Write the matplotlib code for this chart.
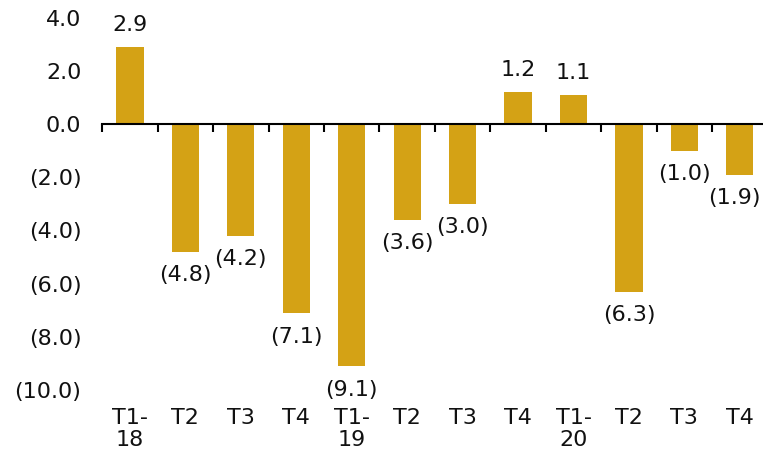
import matplotlib.pyplot as plt
import numpy as np

# du lieu theo quy
quarters = ['T1-\n18', 'T2', 'T3', 'T4', 'T1-\n19', 'T2', 'T3', 'T4', 'T1-\n20', 'T2', 'T3', 'T4']
values = [2.9, -4.8, -4.2, -7.1, -9.1, -3.6, -3.0, 1.2, 1.1, -6.3, -1.0, -1.9]
yticks = [4.0, 2.0, 0.0, -2.0, -4.0, -6.0, -8.0, -10.0]

bar_color = '#D4A215'
fsize = 16


def fmt(v):
    # so am trong ngoac
    if v < 0:
        return f"({abs(v):.1f})"
    return f"{v:.1f}"


plt.rcParams['font.family'] = ['DejaVu Sans']
plt.rcParams['font.size'] = fsize

fig = plt.figure(figsize=(7.63, 4.51), dpi=100)
ax = fig.add_axes([0.134, 0.135, 0.872, 0.826])

x = np.arange(len(values))
ax.bar(x, values, width=0.49, color=bar_color, zorder=2)

labels = []
for xi, v in zip(x, values):
    off = 16 if v >= 0 else -17
    t = ax.annotate(fmt(v), (xi, v), xytext=(0, off), textcoords='offset points',
                    ha='center', va='center', fontsize=fsize, color='#111111')
    labels.append(t)

ax.set_xlim(-0.5, len(values) - 0.5)
ax.set_ylim(-10, 4)
ax.set_yticks(yticks)
ax.set_yticklabels([fmt(t) for t in yticks], color='#111111')
ax.tick_params(axis='y', length=0, pad=15)

# truc ngang o muc 0
for s in ['left', 'right', 'bottom']:
    ax.spines[s].set_visible(False)
ax.spines['top'].set_position(('data', 0))
ax.spines['top'].set_linewidth(1.5)
ax.spines['top'].set_zorder(3)

ax.set_xticks(x)
ax.set_xticklabels(quarters, linespacing=1.12, color='#111111')
ax.set_xticks(np.arange(len(values) + 1) - 0.5, minor=True)
ax.tick_params(axis='x', which='major', length=0, bottom=True, top=False, pad=13)
ax.tick_params(axis='x', which='minor', top=True, bottom=False, direction='in',
               length=6, width=1.5)

# nhan sat mep phai thi day vao trong
fig.canvas.draw()
renderer = fig.canvas.get_renderer()
W = fig.bbox.width
for t in labels:
    bb = t.get_window_extent(renderer)
    if bb.x1 > W - 2:
        dx = (bb.x1 - (W - 2)) * 72 / fig.dpi
        ox, oy = t.xyann
        t.xyann = (ox - dx, oy)

fig.savefig('out.png', dpi=100)
